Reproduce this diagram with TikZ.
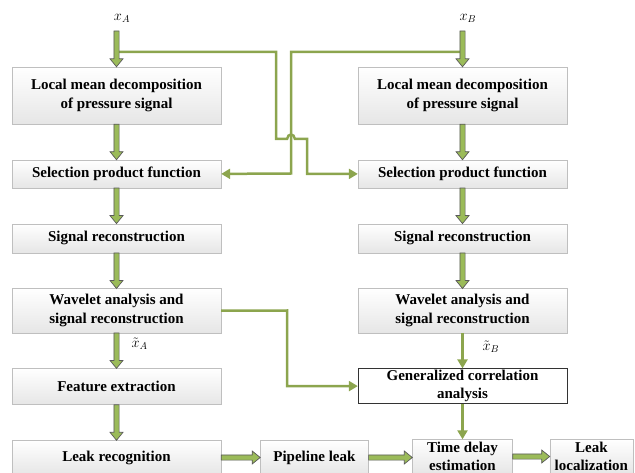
\documentclass[tikz,border=0pt]{standalone}
\usepackage{fontspec}
\setmainfont{Liberation Serif}
\usetikzlibrary{positioning, arrows.meta, calc}
\definecolor{olivefill}{HTML}{9BBB59}
\definecolor{olivelight}{HTML}{C3D69B}
\definecolor{oliveline}{HTML}{8CA54E}
\definecolor{arrowborder}{HTML}{5A5A5A}
\definecolor{boxborder}{HTML}{BFBFBF}
\definecolor{boxbottom}{HTML}{E6E6E6}

% block arrows between two points
\newcommand{\fatdown}[2]{%
  \path[fatarrow] let \p1=(#1), \p2=(#2) in
    (\x1-2.6pt,\y1) -- (\x1+2.6pt,\y1) -- (\x1+2.6pt,\y2+8pt)
    -- (\x1+6.5pt,\y2+8pt) -- (\x1,\y2) -- (\x1-6.5pt,\y2+8pt)
    -- (\x1-2.6pt,\y2+8pt) -- cycle;}
\newcommand{\fatright}[2]{%
  \path[fatarrow] let \p1=(#1), \p2=(#2) in
    (\x1,\y1+2.6pt) -- (\x1,\y1-2.6pt) -- (\x2-8pt,\y1-2.6pt)
    -- (\x2-8pt,\y1-6.5pt) -- (\x2,\y1) -- (\x2-8pt,\y1+6.5pt)
    -- (\x2-8pt,\y1+2.6pt) -- cycle;}

\begin{document}
\begin{tikzpicture}[
    x=1pt, y=-1pt,
    node distance=35.5pt,
    box/.style={draw=boxborder, top color=white, bottom color=boxbottom,
                minimum width=209pt, inner sep=0pt, align=center,
                font=\bfseries\fontsize{15}{18.5}\selectfont},
    plainbox/.style={box, draw=black!80, top color=white, bottom color=white},
    fatarrow/.style={draw=arrowborder, line width=0.7pt, fill=olivefill},
    link/.style={draw=oliveline, line width=2.5pt},
    linkarrow/.style={link, -{Triangle[length=9pt, width=10pt]}},
    sig/.style={font=\fontsize{14}{16}\selectfont},
]
\useasboundingbox (0,0) rectangle (635,473);

% Left column
\node[box, minimum height=57pt] (lmdA) at (116.5,95.5)
    {Local mean decomposition\\of pressure signal};
\node[box, minimum height=28pt, below=of lmdA] (spfA) {Selection product function};
\node[box, minimum height=29pt, below=of spfA] (srA) {Signal reconstruction};
\node[box, minimum height=44pt, below=of srA] (waA)
    {Wavelet analysis and\\signal reconstruction};
\node[box, minimum height=36pt, below=of waA] (feA) {Feature extraction};
\node[box, minimum height=34pt, below=of feA] (lr) {Leak recognition};

% Right column
\node[box, minimum height=57pt] (lmdB) at (462.5,95.5)
    {Local mean decomposition\\of pressure signal};
\node[box, minimum height=28pt, below=of lmdB] (spfB) {Selection product function};
\node[box, minimum height=29pt, below=of spfB] (srB) {Signal reconstruction};
\node[box, minimum height=44pt, below=of srB] (waB)
    {Wavelet analysis and\\signal reconstruction};
\node[plainbox, minimum height=35pt, below=of waB] (gca)
    {Generalized correlation\\analysis};

% Bottom row
\node[box, minimum width=100pt, minimum height=34pt, below=of gca] (tde)
    {Time delay\\estimation};
\node[box, minimum width=108pt, minimum height=34pt, right=39pt of lr] (pl)
    {Pipeline leak};
\node[box, minimum width=83pt, minimum height=34pt, right=37pt of tde] (ll)
    {Leak\\localization};

% Inputs and signal labels
\node[sig] (xA) at (122,18) {$x_A$};
\node[sig] (xB) at (468,18) {$x_B$};
\coordinate (inA) at (116.5,31);
\coordinate (inB) at (462.5,31);
\coordinate (tapA) at (116.5,52);
\coordinate (tapB) at (462.5,52);
\node[sig, anchor=west] (xtA) at (128,344) {$\tilde{x}_A$};
\node[sig, anchor=west] (xtB) at (479,347) {$\tilde{x}_B$};

% Crossing feeds to the selection boxes
\draw[linkarrow] (tapA) -| (276,139) -- (287,139)
    .. controls (288,133) and (294,133) .. (295,139) -- (307,139) |- (spfB.west);
\draw[linkarrow] (tapB) -| (291,173.5) -- (spfA.east);
\draw[linkarrow] (waA.east) -- (287,310.5) |- (gca.west);
\draw[linkarrow] (waB) -- (gca);
\draw[linkarrow] (gca) -- (tde);

% Block arrows
\fatdown{inA}{lmdA.north}
\fatdown{inB}{lmdB.north}
\fatdown{lmdA.south}{spfA.north}
\fatdown{spfA.south}{srA.north}
\fatdown{srA.south}{waA.north}
\fatdown{waA.south}{feA.north}
\fatdown{feA.south}{lr.north}
\fatdown{lmdB.south}{spfB.north}
\fatdown{spfB.south}{srB.north}
\fatdown{srB.south}{waB.north}
\fatright{lr.east}{pl.west}
\fatright{pl.east}{tde.west}
\fatright{tde.east}{ll.west}

\end{tikzpicture}
\end{document}
